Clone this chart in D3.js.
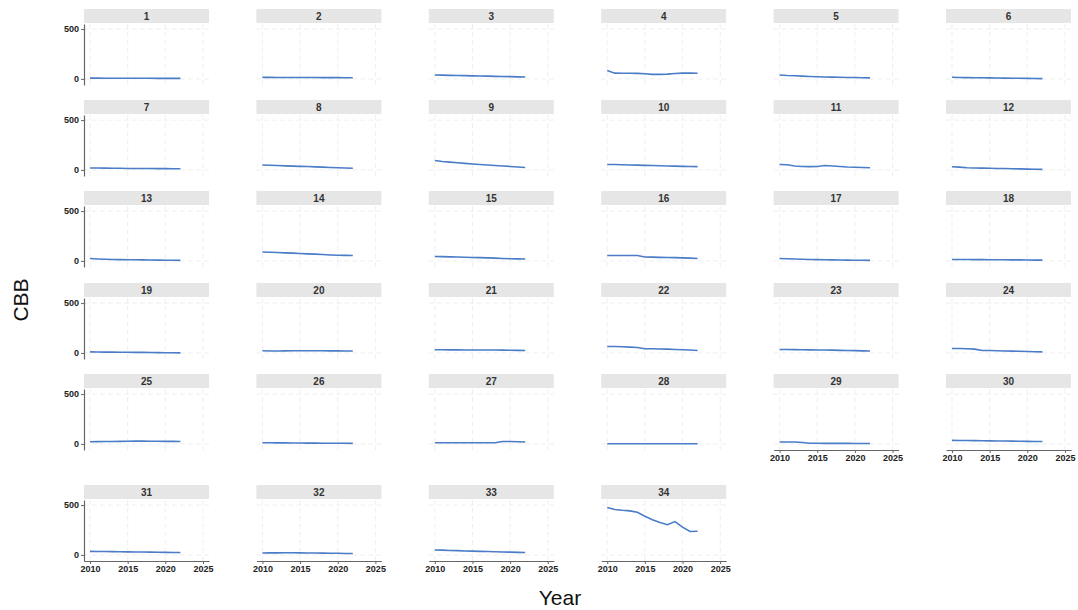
<!DOCTYPE html>
<html>
<head>
<meta charset="utf-8">
<script src="https://cdn.jsdelivr.net/npm/d3@7"></script>
<style>
    body { margin: 0; background: #fff; font-family: "Liberation Sans", Arial, sans-serif; }
    .tick text { fill: #222; }
</style>
</head>
<body>
<div id="viz"></div>
<script>
///// DATOS //////
let years = [2010, 2011, 2012, 2013, 2014, 2015, 2016, 2017, 2018, 2019, 2020, 2021, 2022];
let panelIds = d3.range(1, 35);
let yTicks = [0, 500];
let xTicks = [2010, 2015, 2020, 2025];

// un array por panel (CBB por año, 2010-2022)
let cbbValues = [
    [8, 8, 7, 7, 7, 6, 6, 6, 6, 5, 5, 5, 5],
    [16, 16, 15, 15, 15, 14, 14, 14, 13, 13, 13, 12, 12],
    [40, 38, 36, 35, 33, 31, 30, 28, 26, 25, 23, 21, 19],
    [85, 58, 57, 57, 56, 52, 46, 46, 48, 55, 58, 58, 57],
    [40, 35, 32, 28, 25, 22, 20, 18, 17, 15, 14, 12, 10],
    [16, 14, 13, 12, 11, 10, 9, 8, 7, 6, 5, 4, 3],
    [20, 19, 18, 17, 16, 15, 15, 14, 14, 13, 13, 12, 12],
    [50, 47, 44, 41, 38, 36, 34, 31, 28, 25, 22, 19, 16],
    [95, 85, 78, 72, 66, 60, 55, 50, 45, 40, 35, 30, 25],
    [55, 54, 52, 50, 48, 46, 44, 42, 40, 38, 36, 35, 33],
    [55, 52, 40, 35, 33, 35, 45, 40, 35, 30, 27, 24, 22],
    [32, 28, 22, 20, 18, 16, 15, 14, 12, 10, 8, 6, 5],
    [24, 20, 17, 15, 13, 12, 11, 10, 9, 8, 7, 6, 5],
    [90, 87, 84, 81, 78, 74, 71, 68, 64, 60, 57, 56, 55],
    [45, 43, 41, 39, 37, 35, 33, 31, 28, 25, 22, 21, 20],
    [55, 55, 55, 55, 55, 40, 38, 36, 35, 33, 31, 28, 24],
    [25, 22, 19, 17, 15, 13, 11, 10, 9, 8, 7, 6, 5],
    [15, 14, 14, 13, 13, 12, 12, 11, 10, 10, 9, 8, 8],
    [10, 9, 8, 8, 7, 6, 5, 5, 4, 3, 2, 1, 0],
    [22, 20, 20, 21, 22, 22, 22, 22, 22, 21, 21, 20, 20],
    [32, 32, 31, 31, 30, 30, 30, 29, 29, 28, 27, 26, 25],
    [65, 64, 62, 58, 55, 42, 42, 40, 38, 35, 32, 29, 25],
    [35, 34, 33, 32, 31, 30, 29, 28, 26, 25, 23, 21, 20],
    [45, 44, 42, 38, 25, 24, 22, 20, 18, 16, 14, 12, 10],
    [22, 23, 24, 25, 26, 27, 28, 28, 27, 27, 26, 26, 25],
    [12, 11, 10, 10, 9, 9, 8, 8, 7, 7, 6, 6, 5],
    [12, 12, 11, 11, 11, 11, 11, 11, 12, 25, 24, 22, 20],
    [2, 2, 2, 2, 2, 2, 2, 1, 1, 1, 1, 1, 1],
    [20, 20, 19, 14, 6, 6, 5, 5, 5, 5, 4, 4, 4],
    [36, 35, 34, 33, 32, 31, 30, 29, 28, 27, 26, 25, 24],
    [36, 35, 34, 33, 32, 31, 30, 29, 28, 27, 26, 25, 24],
    [20, 21, 21, 22, 22, 21, 20, 19, 18, 17, 16, 15, 14],
    [50, 48, 45, 43, 40, 38, 36, 34, 32, 30, 28, 26, 25],
    [476, 456, 448, 442, 428, 388, 354, 326, 303, 334, 279, 235, 238]
];

///// MAQUETACIÓN //////
let W = 1078, H = 610;
let nCols = 6;
let colLeft = 84, colStep = 172.4, panelW = 125;
let rowTops = [9, 100, 191, 283, 374, 485];
let stripH = 14, plotTop = 15, plotH = 61;
let lineColor = '#4a7cc8';

let svg = d3.select('#viz').append('svg')
    .attr('width', W)
    .attr('height', H);

//Escalas compartidas (cada panel se traslada)
let x = d3.scaleLinear()
    .domain([2009.2, 2025.8])
    .range([0, panelW]);

let y = d3.scaleLinear()
    .domain([-61, 551])
    .range([plotH, 0]);

let line = d3.line()
    .x((d, i) => x(years[i]))
    .y(d => y(d));

panelIds.forEach(function(id, i) {
    let col = i % nCols, row = Math.floor(i / nCols);
    let g = svg.append('g')
        .attr('transform', 'translate(' + (colLeft + col * colStep) + ',' + rowTops[row] + ')');

    //Cabecera gris
    g.append('rect')
        .attr('width', panelW)
        .attr('height', stripH)
        .attr('fill', '#e6e6e6');
    g.append('text')
        .attr('x', panelW / 2)
        .attr('y', stripH / 2 + 3.5)
        .attr('text-anchor', 'middle')
        .attr('font-size', '10px')
        .attr('font-weight', 'bold')
        .attr('fill', '#333')
        .text(id);

    let p = g.append('g').attr('transform', 'translate(0,' + plotTop + ')');

    //Rejilla
    p.selectAll('.vgrid').data(xTicks).join('line')
        .attr('x1', d => x(d)).attr('x2', d => x(d))
        .attr('y1', 0).attr('y2', plotH)
        .attr('stroke', '#ebebeb')
        .attr('stroke-dasharray', '5,3')
        .attr('stroke-width', 0.8);
    p.selectAll('.hgrid').data(yTicks).join('line')
        .attr('x1', 0).attr('x2', panelW)
        .attr('y1', d => y(d)).attr('y2', d => y(d))
        .attr('stroke', '#ebebeb')
        .attr('stroke-dasharray', '5,3')
        .attr('stroke-width', 0.8);

    //Eje Y solo en la primera columna
    if (col == 0) {
        let yAxis = p.append('g')
            .call(d3.axisLeft(y).tickValues(yTicks).tickSize(3).tickSizeOuter(0));
        yAxis.select('.domain').attr('stroke', '#666').attr('stroke-width', 1.2);
        yAxis.selectAll('.tick line').attr('stroke', '#666');
        yAxis.selectAll('.tick text').attr('font-size', '9px').attr('font-weight', 'bold').attr('x', -5);
    }

    //Eje X en el último panel de cada columna
    if (i + nCols >= panelIds.length) {
        let xAxis = p.append('g')
            .attr('transform', 'translate(0,' + plotH + ')')
            .call(d3.axisBottom(x).tickValues(xTicks).tickFormat(d3.format('d')).tickSize(3).tickSizeOuter(0));
        xAxis.select('.domain').attr('stroke', '#666').attr('stroke-width', 1.2);
        xAxis.selectAll('.tick line').attr('stroke', '#666');
        xAxis.selectAll('.tick text').attr('font-size', '9px').attr('font-weight', 'bold').attr('y', 5);
    }

    p.append('path')
        .datum(cbbValues[i])
        .attr('fill', 'none')
        .attr('stroke', lineColor)
        .attr('stroke-width', 1.6)
        .attr('d', line);
});

//Títulos de ejes
svg.append('text')
    .attr('transform', 'translate(28,300) rotate(-90)')
    .attr('text-anchor', 'middle')
    .attr('font-size', '21px')
    .attr('fill', '#111')
    .text('CBB');

svg.append('text')
    .attr('x', 560)
    .attr('y', 605)
    .attr('text-anchor', 'middle')
    .attr('font-size', '21px')
    .attr('fill', '#111')
    .text('Year');
</script>
</body>
</html>
